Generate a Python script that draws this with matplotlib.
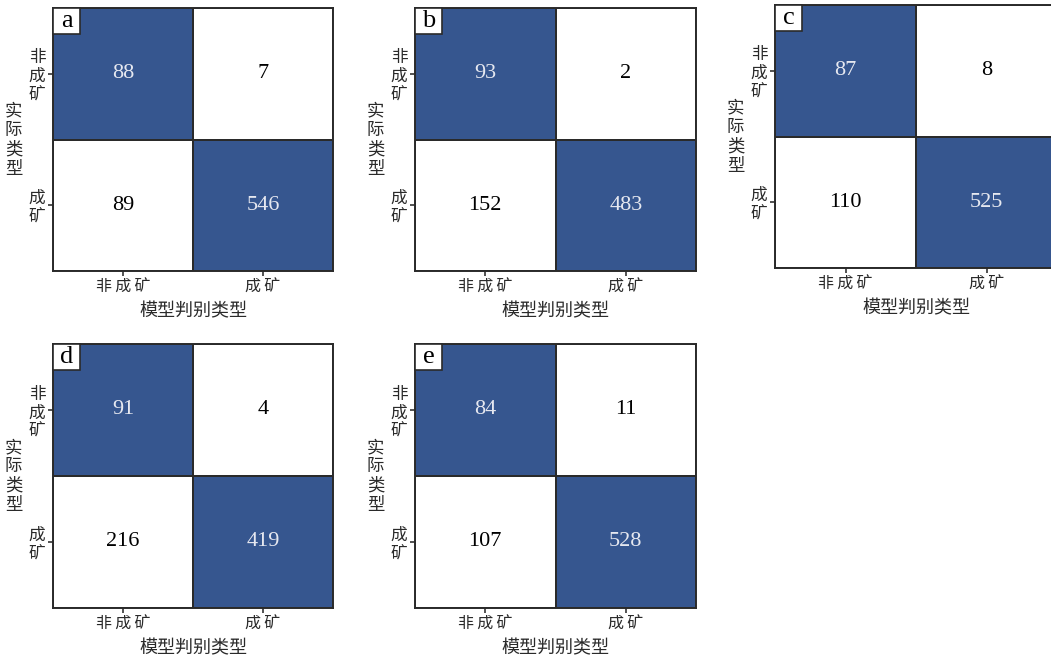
import numpy as np
import matplotlib
matplotlib.use("Agg")
import matplotlib.pyplot as plt
from matplotlib.colors import ListedColormap, BoundaryNorm
from matplotlib.patches import Rectangle

plt.rcParams['font.family'] = ['Noto Sans CJK SC', 'DejaVu Sans']

panel_labels = ["a", "b", "c", "d", "e"]
x_categories = ["非\u2009成\u2009矿", "成\u2009矿"]
y_categories = ["非\n成\n矿", "成\n矿"]
x_title = "模型判别类型"
y_title = "实\n际\n类\n型"

cm_a = [[88, 7], [89, 546]]
cm_b = [[93, 2], [152, 483]]
cm_c = [[87, 8], [110, 525]]
cm_d = [[91, 4], [216, 419]]
cm_e = [[84, 11], [107, 528]]
matrices = [cm_a, cm_b, cm_c, cm_d, cm_e]

W, H = 1051, 659
fig = plt.figure(figsize=(W / 100, H / 100), dpi=100)

# pixel boxes (left, top, right, bottom)
boxes = [
    (53, 8, 333, 271),
    (415, 8, 696, 271),
    (775, 5, 1057, 268),
    (53, 344, 333, 608),
    (415, 344, 696, 608),
]

blue = "#36568F"
cmap = ListedColormap(["white", blue])
norm = BoundaryNorm([0, 0.5, 1.0], 2)
edge = "#2a2a2a"
txt = "#2a2a2a"

for lab, mat, (l, t, r, b) in zip(panel_labels, matrices, boxes):
    aw, ah = r - l, b - t
    ax = fig.add_axes([l / W, 1 - b / H, aw / W, ah / H])
    m = np.array(mat, dtype=float)
    frac = m / m.sum(axis=1, keepdims=True)
    ax.pcolormesh(np.arange(3), np.arange(3), frac, cmap=cmap, norm=norm,
                  edgecolors=edge, linewidth=1.2)
    ax.set_xlim(0, 2)
    ax.set_ylim(2, 0)
    for i in range(2):
        for j in range(2):
            col = "#e6e8f0" if frac[i, j] > 0.5 else "black"
            ax.text(j + 0.5, i + 0.5, f"{int(m[i, j])}", ha="center", va="center",
                    fontsize=16, color=col, family="Liberation Serif")
    ax.set_xticks([0.5, 1.5])
    ax.set_xticklabels(x_categories, fontsize=11.5, color=txt,
                       family=['Noto Sans CJK SC', 'DejaVu Sans'])
    ax.set_yticks([0.5, 1.5])
    ax.set_yticklabels(y_categories, fontsize=12, color=txt, linespacing=1.12)
    ax.tick_params(length=3.5, width=1.2, color="#333333", pad=2)
    for s in ax.spines.values():
        s.set_color(edge)
        s.set_linewidth(1.4)
    ax.set_xlabel(x_title, fontsize=13, color=txt, labelpad=5)
    ax.set_ylabel(y_title, fontsize=12.5, color=txt, rotation=0,
                  va="center", ha="center", labelpad=11, linespacing=1.1)
    bw, bh = 27 / aw, 26 / ah
    ax.add_patch(Rectangle((0, 1 - bh), bw, bh, transform=ax.transAxes,
                           fc="white", ec=edge, lw=1.2, zorder=5, clip_on=False))
    ax.text(bw / 2, 1 - bh / 2, lab, transform=ax.transAxes, ha="center",
            va="center", fontsize=19, family="Liberation Serif", color="black",
            zorder=6)

fig.savefig("out.png", dpi=100)
